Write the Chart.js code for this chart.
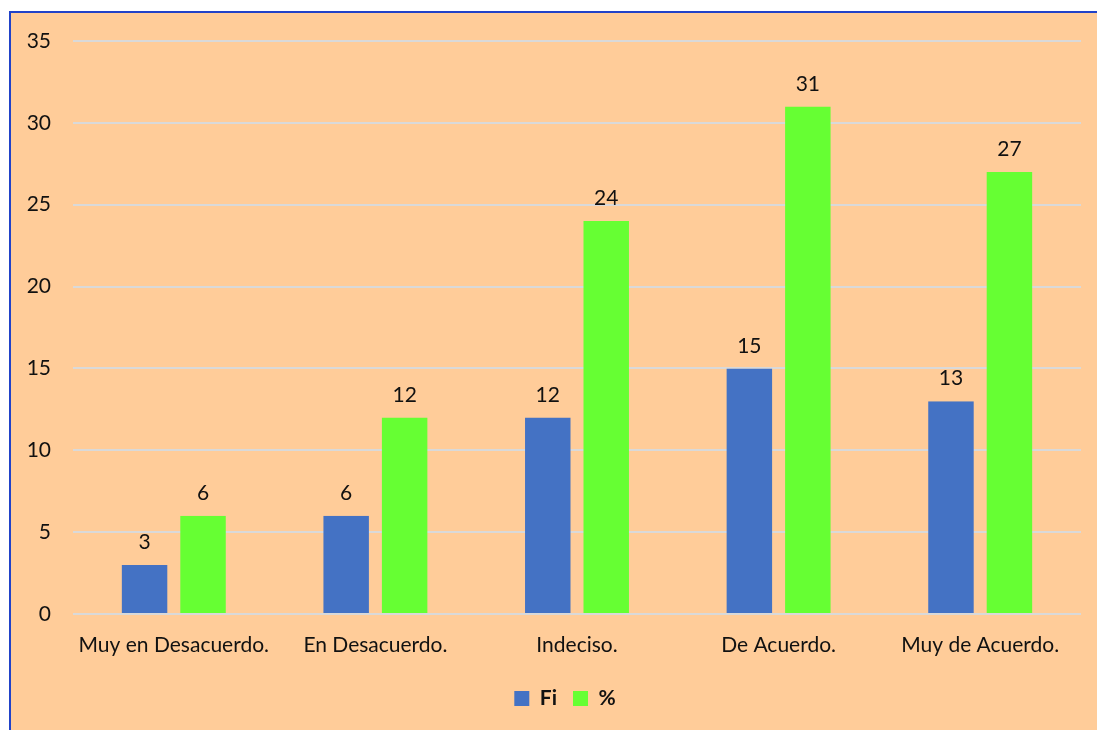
<!DOCTYPE html>
<html>
<head>
<meta charset="utf-8">
<script src="https://cdn.jsdelivr.net/npm/chart.js@4.4.1/dist/chart.umd.min.js"></script>
<style>
  body { margin: 0; background: #fff; overflow: hidden; }
  #frame {
    position: absolute; left: 9px; top: 11px;
    width: 1100px; height: 730px;
    background: #FFCC99;
    border-left: 2px solid #2142C8;
    border-top: 2px solid #2142C8;
  }
  #wrap { position: absolute; left: 0; top: 0; width: 1086px; height: 717px; }
</style>
</head>
<body>
<div id="frame"><div id="wrap"><canvas id="barChart"></canvas></div></div>
<script>
// Survey answers
const categories = ['Muy en Desacuerdo.', 'En Desacuerdo.', 'Indeciso.', 'De Acuerdo.', 'Muy de Acuerdo.'];
const fiValues = [3, 6, 12, 15, 13];
const pctValues = [6, 12, 24, 31, 27];
const yTicks = [0, 5, 10, 15, 20, 25, 30, 35];

const FONT = 'Lato, "Open Sans", sans-serif';

// Write each bar's value above it
const valueLabels = {
  id: 'valueLabels',
  afterDatasetsDraw(chart) {
    const ctx = chart.ctx;
    ctx.save();
    ctx.font = '21px ' + FONT;
    ctx.fillStyle = '#111';
    ctx.textAlign = 'center';
    ctx.textBaseline = 'bottom';
    chart.data.datasets.forEach((ds, i) => {
      chart.getDatasetMeta(i).data.forEach((bar, j) => {
        ctx.fillText(ds.data[j], bar.x, bar.y - 12);
      });
    });
    ctx.restore();
  }
};

// legend sits a little right of the canvas centre
const legendShift = {
  id: 'legendShift',
  afterLayout(chart) {
    chart.legend.left += 19;
    chart.legend.right += 19;
  }
};

// transparent side borders leave a gap between the two bars of a group
const gap = { left: 6.5, right: 6.5, top: 0, bottom: 0 };

new Chart(document.getElementById('barChart'), {
  type: 'bar',
  data: {
    labels: categories,
    datasets: [
      { label: 'Fi', data: fiValues, backgroundColor: '#4472C4', borderColor: 'rgba(0,0,0,0)', borderWidth: gap, borderSkipped: false },
      { label: '%', data: pctValues, backgroundColor: '#66FF33', borderColor: 'rgba(0,0,0,0)', borderWidth: gap, borderSkipped: false }
    ]
  },
  options: {
    responsive: true,
    maintainAspectRatio: false,
    animation: false,
    categoryPercentage: 0.58,
    barPercentage: 1,
    layout: { padding: { top: 28, right: 16, bottom: 11, left: 0 } },
    plugins: {
      legend: {
        position: 'bottom',
        labels: {
          boxWidth: 15, boxHeight: 15, padding: 16,
          color: '#111',
          font: { family: FONT, size: 21, weight: 'bold' },
          generateLabels(chart) {
            return chart.data.datasets.map((ds, i) => ({
              text: ds.label, fillStyle: ds.backgroundColor, strokeStyle: ds.backgroundColor,
              lineWidth: 0, datasetIndex: i, fontColor: '#111'
            }));
          }
        }
      },
      tooltip: { enabled: false }
    },
    scales: {
      x: {
        grid: { display: false },
        border: { display: false },
        ticks: { color: '#111', font: { family: FONT, size: 21 }, padding: 11, maxRotation: 0 },
        afterFit(scale) { scale.height = 58; }
      },
      y: {
        min: 0, max: 35,
        afterBuildTicks(scale) { scale.ticks = yTicks.map(v => ({ value: v })); },
        grid: { color: '#D9D9D9', lineWidth: 2, drawTicks: false },
        border: { display: false },
        ticks: { color: '#111', font: { family: FONT, size: 21 }, padding: 22 },
        afterFit(scale) {
          scale.width = 62;
          scale.paddingTop = 0;
          scale.paddingBottom = 0;
        }
      }
    }
  },
  plugins: [valueLabels, legendShift]
});
</script>
</body>
</html>
